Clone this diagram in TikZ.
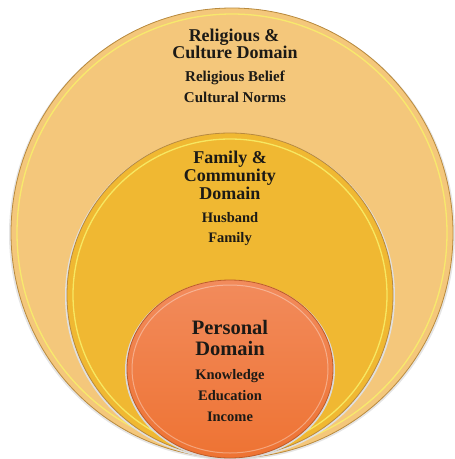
\documentclass[tikz,border=0pt]{standalone}
\usepackage{fontspec}
\setmainfont{Liberation Serif}
\definecolor{outerfill}{HTML}{F4C77B}
\definecolor{middlefill}{HTML}{F0B832}
\definecolor{innertop}{HTML}{F28B5C}
\definecolor{innerbot}{HTML}{EE7333}
\definecolor{rimdark}{HTML}{B98A3E}
\definecolor{glint}{HTML}{F8F06A}
\definecolor{ink}{HTML}{1C1A16}
\begin{document}
\begin{tikzpicture}[x=1pt,y=-1pt,
  heading/.style={font=\bfseries\fontsize{18}{18}\selectfont, text=ink, inner sep=0pt, anchor=base},
  bigheading/.style={font=\bfseries\fontsize{20.5}{20.5}\selectfont, text=ink, inner sep=0pt, anchor=base},
  item/.style={font=\bfseries\fontsize{14.5}{14.5}\selectfont, text=ink, inner sep=0pt, anchor=base},
  topitem/.style={item, font=\bfseries\fontsize{15}{15}\selectfont},
  rim/.style={draw=rimdark, line width=0.8pt},
  gleam/.style={draw=glint, line width=1.3pt, opacity=0.85},
]
\useasboundingbox (0,0) rectangle (455,459);

% outer ring: religion and culture
\fill[black!10] (232,234) ellipse [x radius=223pt, y radius=226pt];
\filldraw[rim, fill=outerfill] (232,233) ellipse [x radius=221pt, y radius=225pt];
\draw[gleam] (232,233) ellipse [x radius=215pt, y radius=219pt];

% middle ring: family and community
\fill[black!12] (230,296) ellipse [x radius=165pt, y radius=163pt];
\filldraw[rim, fill=middlefill] (230,295) ellipse [x radius=163pt, y radius=162pt];
\draw[gleam] (230,295) ellipse [x radius=157pt, y radius=156pt];

% inner disc: personal
\fill[black!15] (230,370) ellipse [x radius=105pt, y radius=90pt];
\shade[top color=innertop, bottom color=innerbot] (230,369) ellipse [x radius=103pt, y radius=89pt];
\draw[rim, draw=innerbot!80!black] (230,369) ellipse [x radius=103pt, y radius=89pt];
\draw[draw=white, line width=1pt, opacity=0.35] (230,369) ellipse [x radius=98pt, y radius=84pt];

% labels
\node[heading] (rel1) at (234,41) {Religious \&};
\node[heading] (rel2) at (235,58) {Culture Domain};
\node[topitem] (rel3) at (235,81) {Religious Belief};
\node[topitem] (rel4) at (235,102) {Cultural Norms};

\node[heading] (fam1) at (230,163) {Family \&};
\node[heading] (fam2) at (230,181) {Community};
\node[heading] (fam3) at (230,199) {Domain};
\node[item] (fam4) at (230,222) {Husband};
\node[item] (fam5) at (230,242) {Family};

\node[bigheading] (per1) at (230,334) {Personal};
\node[bigheading] (per2) at (230,355) {Domain};
\node[item] (per3) at (230,379) {Knowledge};
\node[item] (per4) at (230,400) {Education};
\node[item] (per5) at (230,421) {Income};
\end{tikzpicture}
\end{document}
